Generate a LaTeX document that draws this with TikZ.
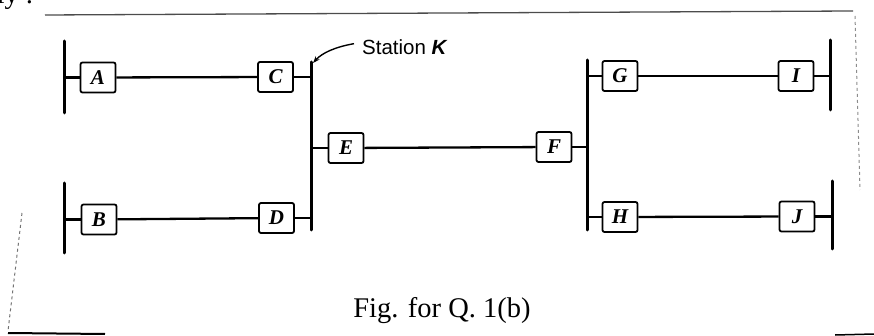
\documentclass[tikz,border=0pt]{standalone}
\usepackage{fontspec}
\setmainfont{Liberation Serif}
\newfontfamily\stationfont{Liberation Sans}
\usetikzlibrary{arrows.meta}

\begin{document}
\begin{tikzpicture}[x=1pt, y=-1pt,
    unit/.style={draw, line width=1.8pt, rounded corners=2pt,
      minimum width=35pt, minimum height=30pt, inner sep=0pt,
      font=\fontsize{21}{21}\selectfont\bfseries\itshape},
    bus/.style={line width=3pt, line cap=round},
    link/.style={line width=2.3pt},
    frame/.style={line width=1pt, black!70}]
  \useasboundingbox (0,0) rectangle (874,336);

  % scanned page frame
  \draw[frame, line width=1.3pt] (45,15) -- (853,11);
  \draw[frame, dashed, black!45] (855,16) -- (860,190);
  \draw[frame, dashed, black!55] (22,213) -- (8,331);
  \draw[line width=2pt] (8,333) -- (105,334);
  \draw[line width=1.5pt] (835,335) -- (874,334);
  \node[anchor=base east, font=\fontsize{28}{28}\selectfont] (prev) at (37,4) {ly :};

  % bus bars
  \coordinate (aTop) at (64,41);  \coordinate (aBot) at (64,113);
  \coordinate (bTop) at (64,183); \coordinate (bBot) at (64,253);
  \coordinate (kTop) at (311,62); \coordinate (kBot) at (311,230);
  \coordinate (gTop) at (587,60); \coordinate (gBot) at (587,230);
  \coordinate (iTop) at (830,40); \coordinate (iBot) at (830,110);
  \coordinate (jTop) at (832,181); \coordinate (jBot) at (832,249);
  \foreach \t/\b in {aTop/aBot, bTop/bBot, kTop/kBot, gTop/gBot, iTop/iBot, jTop/jBot}
    \draw[bus] (\t) -- (\b);

  % stations
  \node[unit] (A) at (98,77.5) {A};
  \node[unit] (C) at (275.5,77) {C};
  \node[unit] (B) at (99,219.5) {B};
  \node[unit] (D) at (276.5,218) {D};
  \node[unit] (E) at (346,148) {E};
  \node[unit] (F) at (554,147) {F};
  \node[unit] (G) at (620,76) {G};
  \node[unit] (I) at (796,76) {I};
  \node[unit] (H) at (620,217) {H};
  \node[unit] (J) at (797,216.5) {J};

  % lines
  \draw[link] (A.west) -- (A.west -| aTop);
  \draw[link] (A) -- (C);
  \draw[link] (C.east) -- (C.east -| kTop);
  \draw[link] (B.west) -- (B.west -| bTop);
  \draw[link] (B) -- (D);
  \draw[link] (D.east) -- (D.east -| kTop);
  \draw[link] (E.west) -- (E.west -| kTop);
  \draw[link] (E) -- (F);
  \draw[link] (F.east) -- (F.east -| gTop);
  \draw[link] (G.west) -- (G.west -| gTop);
  \draw[link] (G) -- (I);
  \draw[link] (I.east) -- (I.east -| iTop);
  \draw[link] (H.west) -- (H.west -| gTop);
  \draw[link] (H) -- (J);
  \draw[link] (J.east) -- (J.east -| jTop);

  % station label
  \node[anchor=base west, inner sep=0pt, font=\fontsize{20.5}{20.5}\selectfont]
    (lbl) at (362,55) {\stationfont Station \textbf{\textit{K}}};
  \draw[line width=1.4pt, -{Stealth[length=7pt, width=5pt]}]
    ([xshift=-8pt, yshift=4pt]lbl.west) .. controls (335,47) and (322,53) .. ([xshift=2pt, yshift=-1pt]kTop);

  \node[anchor=base, font=\fontsize{28.5}{30}\selectfont] (cap) at (442,317) {Fig. for Q. 1(b)};
\end{tikzpicture}
\end{document}
